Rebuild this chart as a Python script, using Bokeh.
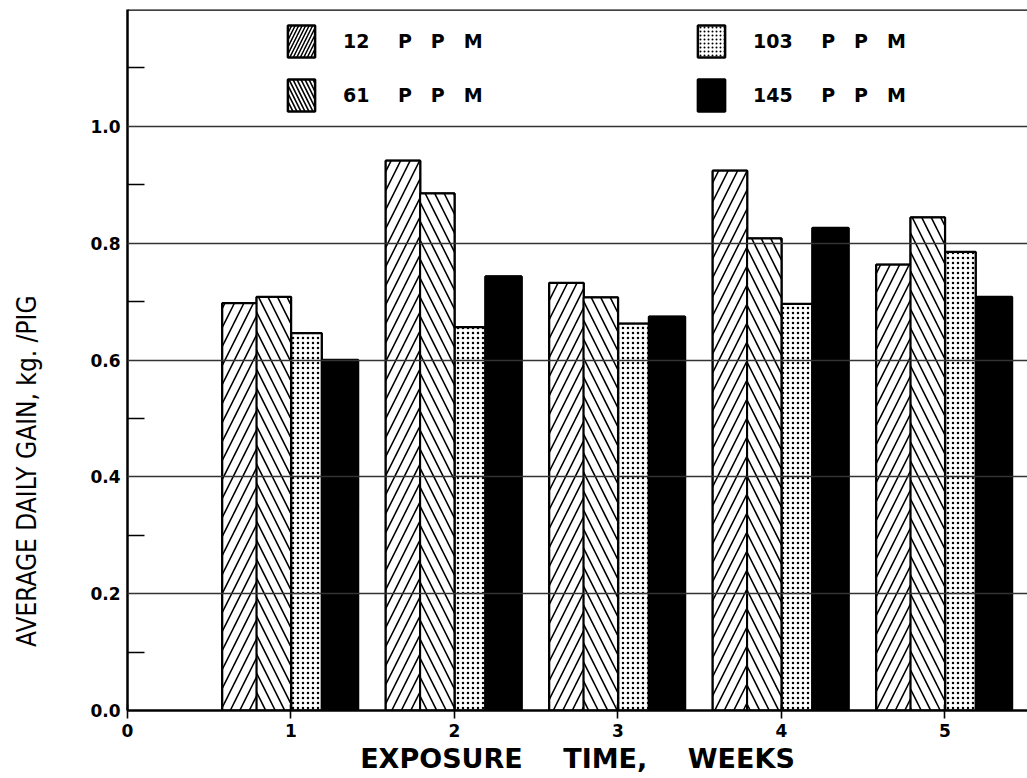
import math
from bokeh.plotting import figure
from bokeh.models import (ColumnDataSource, Range1d, FixedTicker, Span, Legend,
                          LegendItem, PrintfTickFormatter)
from bokeh.transform import dodge
from bokeh.embed import file_html
from bokeh.resources import INLINE

# ---------------- data ----------------
weeks = [1, 2, 3, 4, 5]
ppm_12 = [0.697, 0.941, 0.732, 0.924, 0.763]
ppm_61 = [0.708, 0.885, 0.707, 0.808, 0.844]
ppm_103 = [0.646, 0.656, 0.662, 0.696, 0.785]
ppm_145 = [0.600, 0.743, 0.674, 0.826, 0.708]
series_labels = ["12 PPM", "61 PPM", "103 PPM", "145 PPM"]
y_ticks = [0.0, 0.2, 0.4, 0.6, 0.8, 1.0]
y_minor_ticks = [0.1, 0.3, 0.5, 0.7, 0.9, 1.1]
x_ticks = [0, 1, 2, 3, 4, 5]
x_title = "EXPOSURE TIME, WEEKS"
y_title = "AVERAGE DAILY GAIN, kg. /PIG"

FONT = "DejaVu Sans"

def spaced_label(s):
    num, unit = s.split(" ")
    return num + "\u2003\u2002" + "\u2003".join(unit)

p = figure(width=1027, height=778, x_range=Range1d(0, 5.505), y_range=Range1d(0, 1.2),
           output_backend="svg", toolbar_location=None,
           min_border_left=127, min_border_right=0, min_border_top=9, min_border_bottom=68)
p.outline_line_color = None
p.background_fill_color = "white"
p.border_fill_color = "white"

src = ColumnDataSource(dict(week=weeks, p12=ppm_12, p61=ppm_61, p103=ppm_103, p145=ppm_145))

styles = [
    dict(fill_color="white", hatch_pattern="/", hatch_color="black", hatch_scale=19, hatch_weight=1.6),
    dict(fill_color="white", hatch_pattern="\\", hatch_color="black", hatch_scale=19, hatch_weight=1.6),
    dict(fill_color="white", hatch_pattern=".", hatch_color="black", hatch_scale=5, hatch_weight=1.0),
    dict(fill_color="black"),
]
legend_styles = [
    dict(fill_color="white", hatch_pattern="/", hatch_color="black", hatch_scale=7, hatch_weight=1.5),
    dict(fill_color="white", hatch_pattern="\\", hatch_color="black", hatch_scale=8, hatch_weight=1.6),
    dict(fill_color="white", hatch_pattern=".", hatch_color="black", hatch_scale=4, hatch_weight=1.0),
    dict(fill_color="black"),
]
fields = ["p12", "p61", "p103", "p145"]
offsets = [-0.315, -0.105, 0.095, 0.30]
widths = [0.21, 0.21, 0.185, 0.22]

# key renderers: same bars with the denser key patterns, drawn first and fully covered
legend_renderers = []
for f, off, w, st in zip(fields, offsets, widths, legend_styles):
    r = p.vbar(x=dodge("week", off), top=f, bottom=0, width=w, source=src,
               line_color="black", line_width=2.5, **st)
    legend_renderers.append(r)

for f, off, w, st in zip(fields, offsets, widths, styles):
    p.vbar(x=dodge("week", off), top=f, bottom=0, width=w, source=src,
           line_color="black", line_width=2, **st)

for idx, loc_x in enumerate([157, 567]):
    items = [LegendItem(label=spaced_label(series_labels[2 * idx + k]),
                        renderers=[legend_renderers[2 * idx + k]]) for k in range(2)]
    lg = Legend(items=items, location=(loc_x, 595), orientation="vertical",
                glyph_width=34, glyph_height=40, spacing=14, padding=0, margin=0,
                label_standoff=25, label_text_font=FONT, label_text_font_style="bold",
                label_text_font_size="19px", label_text_color="black",
                label_text_baseline="middle",
                border_line_color=None, background_fill_alpha=0)
    p.add_layout(lg)

# axes
p.xgrid.visible = False
p.ygrid.ticker = FixedTicker(ticks=y_ticks)
p.ygrid.grid_line_color = "#333333"
p.ygrid.grid_line_width = 1.4
p.ygrid.level = "overlay"

p.yaxis.ticker = FixedTicker(ticks=y_ticks, minor_ticks=y_minor_ticks)
p.yaxis.formatter = PrintfTickFormatter(format="%.1f")
p.yaxis.major_tick_in = 0
p.yaxis.major_tick_out = 0
p.yaxis.minor_tick_in = 17
p.yaxis.minor_tick_out = 0
p.yaxis.minor_tick_line_width = 1.5
p.yaxis.minor_tick_line_color = "black"
p.yaxis.major_label_standoff = 7
# the title sits low on the axis in the original: trailing em spaces shift the centred label down
p.yaxis.axis_label = y_title + "\u2003" * 9 + "\u2002"
p.yaxis.axis_label_standoff = 45
p.yaxis.axis_label_text_font = "DejaVu Sans Condensed"
p.yaxis.axis_label_text_font_size = "26px"
p.yaxis.axis_label_text_font_style = "normal"
p.yaxis.axis_label_text_color = "black"

p.xaxis.ticker = FixedTicker(ticks=x_ticks, minor_ticks=[])
p.xaxis.major_tick_in = 6
p.xaxis.major_tick_out = 8
p.xaxis.major_tick_line_width = 1.6
p.xaxis.major_tick_line_color = "black"
p.xaxis.major_label_standoff = 5
p.xaxis.axis_label = "\u2003\u2002".join(x_title.split(" "))
p.xaxis.axis_label_standoff = 3
p.xaxis.axis_label_text_font = FONT
p.xaxis.axis_label_text_font_style = "bold"
p.xaxis.axis_label_text_font_size = "27px"
p.xaxis.axis_label_text_color = "black"

for ax in (p.xaxis, p.yaxis):
    ax.axis_line_width = 2.5
    ax.axis_line_color = "black"
    ax.major_label_text_font = FONT
    ax.major_label_text_font_style = "bold"
    ax.major_label_text_font_size = "17px"
    ax.major_label_text_color = "black"

p.add_layout(Span(location=1.2, dimension="width", line_color="black", line_width=2.5))

open("out.html", "w").write(file_html(p, INLINE))
